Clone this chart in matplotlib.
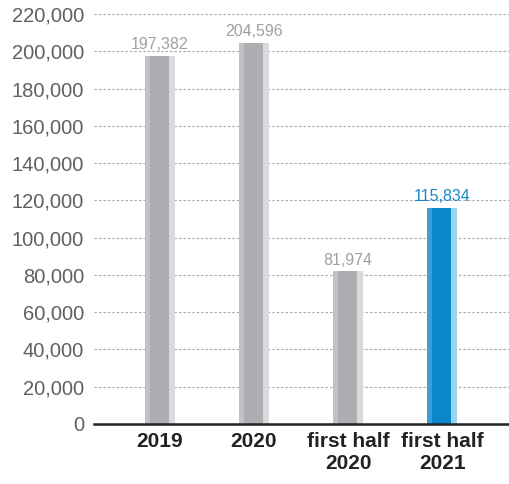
import matplotlib.pyplot as plt
import numpy as np

plt.rcParams['font.family'] = ['Liberation Sans', 'DejaVu Sans']

categories = ["2019", "2020", "first half\n2020", "first half\n2021"]
values = [197382, 204596, 81974, 115834]
value_labels = ["197,382", "204,596", "81,974", "115,834"]
yticks = [0, 20000, 40000, 60000, 80000, 100000, 120000, 140000, 160000, 180000, 200000, 220000]

fig = plt.figure(figsize=(5.1, 4.84), dpi=100)
ax = fig.add_axes([0.184, 0.124, 0.816, 0.847])

x = np.arange(len(categories))
w = 0.32
grey = ("#aeadb1", "#c2c1c4", "#dadadc")
blue = ("#0a86c9", "#3a9ed7", "#9ad5ef")
for i, v in enumerate(values):
    main, left, right = blue if i == 3 else grey
    ax.bar(x[i], v, width=w, color=main, zorder=3)
    ax.bar(x[i] - w * 0.42, v, width=w * 0.16, color=left, zorder=3)
    ax.bar(x[i] + w * 0.40, v, width=w * 0.2, color=right, zorder=3)
    ax.text(x[i], v + 2000, value_labels[i], ha="center", va="bottom",
            fontsize=11.5, color="#1a87c6" if i == 3 else "#a0a0a0", zorder=4)

ax.set_ylim(0, 220000)
ax.set_xlim(-0.70, 3.72)
ax.set_yticks(yticks)
ax.set_yticklabels([f"{t:,}" for t in yticks], fontsize=14.5, color="#606060")
ax.yaxis.grid(True, linestyle=(0, (2.2, 1.8)), color="#a8a8a8", linewidth=0.8, zorder=0)
ax.tick_params(axis="y", length=0, pad=7)
ax.set_xticks(x)
ax.set_xticklabels(categories, fontsize=15, fontweight="bold", color="#222222", linespacing=1.15)
ax.tick_params(axis="x", length=0, pad=6)

for s in ["top", "right", "left"]:
    ax.spines[s].set_visible(False)
ax.spines["bottom"].set_linewidth(1.8)
ax.spines["bottom"].set_color("#222222")
ax.spines["bottom"].set_zorder(5)

fig.savefig("out.png", dpi=100)
